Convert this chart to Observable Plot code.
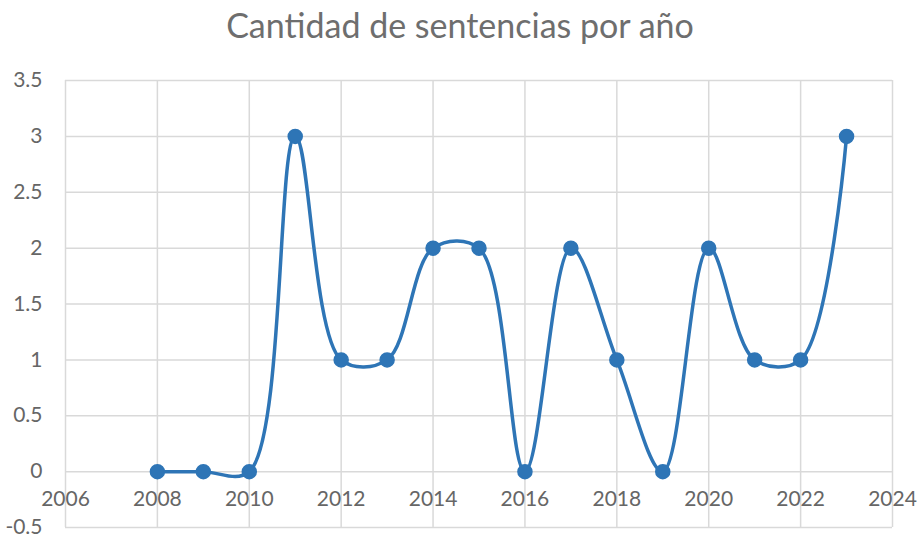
<!DOCTYPE html>
<html><head><meta charset="utf-8">
<script src="https://cdn.jsdelivr.net/npm/d3@7"></script>
<script src="https://cdn.jsdelivr.net/npm/@observablehq/plot@0.6"></script>
<style>
body{margin:0;background:#fff;font-family:Lato,"Open Sans",sans-serif;}
#title{height:60px;line-height:50px;text-align:center;font-size:34px;color:#6e6e6e;width:920px;}
</style></head><body>
<div id="title">Cantidad de sentencias por año</div>
<div id="chart"></div>
<script>
const years = [2008,2009,2010,2011,2012,2013,2014,2015,2016,2017,2018,2019,2020,2021,2022,2023];
const sentencias = [0,0,0,3,1,1,2,2,0,2,1,0,2,1,1,3];
const xTicks = [2006,2008,2010,2012,2014,2016,2018,2020,2022,2024];
const yTicks = [-0.5,0,0.5,1,1.5,2,2.5,3,3.5];
const yTickLabels = ["-0.5","0","0.5","1","1.5","2","2.5","3","3.5"];

const data = years.map((y,i)=>({year:y, value:sentencias[i]}));
const yData = yTicks.map((v,i)=>({v, label:yTickLabels[i]}));
const blue = "#2e75b6";
const grid = "#d9d9d9";

const chart = Plot.plot({
  width: 920, height: 477,
  marginTop: 20, marginBottom: 10, marginLeft: 65, marginRight: 28,
  style: {fontFamily: "Lato, 'Open Sans', sans-serif", background: "#fff"},
  x: {domain: [2006, 2024], axis: null},
  y: {domain: [-0.5, 3.5], axis: null},
  marks: [
    Plot.ruleX(xTicks, {stroke: grid, strokeWidth: 1.5}),
    Plot.ruleY(yTicks, {stroke: grid, strokeWidth: 1.5}),
    Plot.text(yData, {x: 2006, y: "v", text: "label", textAnchor: "end", dx: -23, fontSize: 21, fill: "#666"}),
    Plot.text(xTicks, {x: d => d, y: 0, text: d => String(d), dy: 28, fontSize: 21, fill: "#666"}),
    Plot.line(data, {x: "year", y: "value", curve: "catmull-rom", stroke: blue, strokeWidth: 3.5}),
    Plot.dot(data, {x: "year", y: "value", r: 7, fill: blue, stroke: blue})
  ]
});
document.getElementById("chart").appendChild(chart);
</script>
</body></html>
